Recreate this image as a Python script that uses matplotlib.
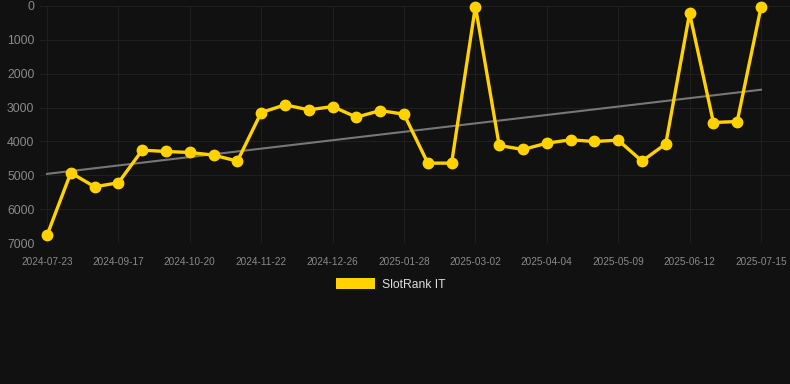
#!/usr/bin/env python3
"""SlotRank IT rank history with linear trend, dark theme."""

import numpy as np
import matplotlib
matplotlib.use('Agg')
import matplotlib.pyplot as plt
from matplotlib.patches import Rectangle

plt.rcParams['font.family'] = ['Liberation Sans', 'DejaVu Sans']

BG = '#111111'
YELLOW = '#FFD200'
GRID = '#1f1f1f'
TICK = '#8a8a8a'

# Rank values, one per sample (oldest first)
ranks = [6775, 4926, 5339, 5221, 4258, 4297, 4326, 4405, 4582, 3146,
         2920, 3068, 2970, 3284, 3088, 3196, 4641, 4641, 15, 4120,
         4238, 4051, 3953, 4002, 3963, 4582, 4071, 216, 3441, 3412, 39]

# Date labels shown on the x axis (every third sample)
date_labels = ['2024-07-23', '2024-09-17', '2024-10-20', '2024-11-22',
               '2024-12-26', '2025-01-28', '2025-03-02', '2025-04-04',
               '2025-05-09', '2025-06-12', '2025-07-15']

y_ticks = [0, 1000, 2000, 3000, 4000, 5000, 6000, 7000]


def main():
    W, H = 790, 384
    fig = plt.figure(figsize=(W / 100, H / 100), dpi=100, facecolor=BG)
    ax = fig.add_axes([40 / W, 1 - 243 / H, 750 / W, 237 / H], facecolor=BG)

    x = np.arange(len(ranks))
    y = np.array(ranks, dtype=float)

    # Linear trend over the series
    slope, intercept = np.polyfit(x, y, 1)
    ax.plot(x, slope * x + intercept, color='#777777', lw=1.5, zorder=2)

    ax.plot(x, y, color=YELLOW, lw=2.4, marker='o', ms=7.5,
            markerfacecolor=YELLOW, markeredgecolor=YELLOW,
            zorder=3, clip_on=False)

    step = 23.8
    ax.set_xlim(-7 / step, 30 + 29 / step)
    ax.set_ylim(7000, 0)

    ax.set_xticks(x[::3])
    ax.set_xticklabels(date_labels)
    ax.set_yticks(y_ticks)

    ax.grid(True, color=GRID, lw=0.8)
    ax.set_axisbelow(True)
    for side in ax.spines.values():
        side.set_visible(False)
    ax.tick_params(axis='both', length=0, colors=TICK)
    ax.tick_params(axis='x', labelsize=7.2, pad=10)
    ax.tick_params(axis='y', labelsize=8.8, pad=4)

    # Legend drawn below the plot
    fig.patches.append(Rectangle((336 / W, 1 - 289 / H), 39 / W, 11 / H,
                                 transform=fig.transFigure, facecolor=YELLOW,
                                 edgecolor='none'))
    fig.text(382 / W, 1 - 285 / H, 'SlotRank IT', color='#dddddd',
             fontsize=8.7, va='center', ha='left')

    fig.savefig('out.png', dpi=100, facecolor=BG)
    plt.close(fig)


if __name__ == '__main__':
    main()
